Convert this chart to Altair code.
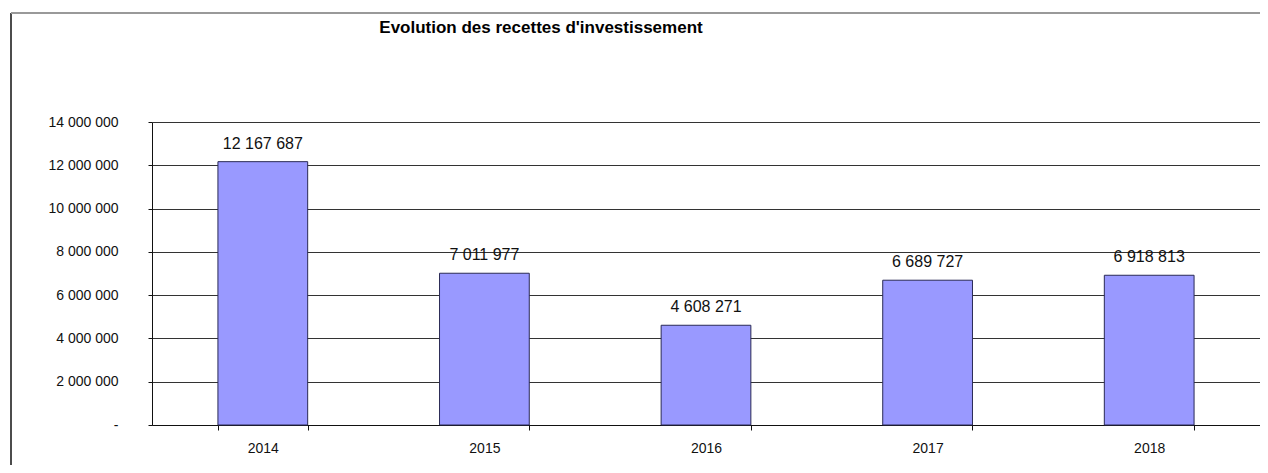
import altair as alt
import pandas as pd

years = ["2014", "2015", "2016", "2017", "2018"]
values = [12167687, 7011977, 4608271, 6689727, 6918813]
y_ticks = [0, 2000000, 4000000, 6000000, 8000000, 10000000, 12000000, 14000000]
title_text = "Evolution des recettes d'investissement"

df = pd.DataFrame({"annee": years, "recettes": values})
one = pd.DataFrame({"k": [0]})

W, H = 1108, 303
FONT = "Liberation Sans"

x_enc = alt.X(
    "annee:N",
    sort=years,
    scale=alt.Scale(paddingInner=0.595, paddingOuter=0.2975),
    axis=alt.Axis(title=None, labelAngle=0, tickBand="extent", tickSize=5,
                  labelPadding=11, grid=False),
)
y_enc = alt.Y(
    "recettes:Q",
    scale=alt.Scale(domain=[0, 14000000], nice=False),
    axis=alt.Axis(title=None, values=y_ticks, format=",d", tickSize=4,
                  labelPadding=30, grid=True,
                  labelExpr="datum.value == 0 ? '-' : datum.label"),
)

bars = alt.Chart(df).mark_bar(color="#9999ff", stroke="#2a2a55", strokeWidth=1).encode(
    x=x_enc, y=y_enc
)
labels = alt.Chart(df).mark_text(dy=-18, font=FONT, fontSize=16, color="#111").encode(
    x=alt.X("annee:N", sort=years),
    y="recettes:Q",
    text=alt.Text("recettes:Q", format=",d"),
)
title = alt.Chart(one).mark_text(font=FONT, fontSize=17, fontWeight="bold",
                                 color="#000", align="center", baseline="middle").encode(
    x=alt.value(389), y=alt.value(-94), text=alt.value(title_text)
)
left_border = alt.Chart(one).mark_rule(color="#111", strokeWidth=1.5).encode(
    x=alt.value(-141), y=alt.value(-109), y2=alt.value(360)
)
top_border = alt.Chart(one).mark_rule(color="#999", strokeWidth=2).encode(
    x=alt.value(-141), x2=alt.value(1120), y=alt.value(-109)
)

chart = alt.layer(bars, labels, title, left_border, top_border).properties(
    width=W, height=H,
    autosize=alt.AutoSizeParams(type="none"),
    padding={"left": 144, "top": 114, "right": 0, "bottom": 40},
).configure(
    locale={"number": {"decimal": ",", "thousands": " ", "grouping": [3], "currency": ["", " €"]}}
).configure_view(strokeWidth=0).configure_axis(
    labelFont=FONT, labelFontSize=14, labelColor="#111",
    domainColor="#111", tickColor="#111", gridColor="#333", gridWidth=1,
)

chart.save("out.html", embed_options={"renderer": "svg", "actions": False})
